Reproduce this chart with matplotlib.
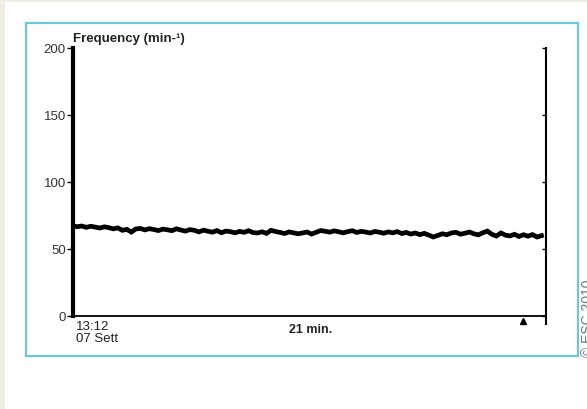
import matplotlib.pyplot as plt
from matplotlib.patches import Rectangle

plt.rcParams['font.family'] = ['Liberation Sans', 'DejaVu Sans']

# frequency trace, one value every 0.2 min
step = 0.2
freq = [67, 66.5, 67, 66, 66.8, 66.2, 65.5, 66.4, 65.8, 64.9, 65.6,
        63.8, 64.5, 62.5, 64.8, 65.2, 64.1, 65.0, 64.4, 63.6, 64.7,
        64.2, 63.5, 64.9, 64.0, 63.2, 64.3, 63.8, 62.6, 63.9, 63.1,
        62.4, 63.6, 62.0, 63.2, 62.8, 61.9, 63.0, 62.3, 63.5, 62.1,
        61.8, 62.7, 61.5, 63.8, 62.9, 62.2, 61.4, 62.6, 61.9, 61.2,
        61.8, 62.5, 61.0, 62.3, 63.6, 63.1, 62.4, 63.4, 62.7, 61.9,
        62.8, 63.5, 62.2, 63.0, 62.5, 61.8, 62.9, 62.4, 61.6, 62.6,
        61.9, 62.8, 61.4, 62.2, 61.0, 61.8, 60.6, 61.5, 60.2, 58.8,
        60.0, 61.2, 60.5, 61.8, 62.3, 60.9, 61.6, 62.5, 61.2, 60.4,
        62.0, 63.2, 60.8, 59.5, 61.8, 60.2, 59.6, 60.8, 59.2, 60.5,
        59.4, 60.6, 58.8, 59.8]
minutes = [i * step for i in range(len(freq))]
yticks = [0, 50, 100, 150, 200]
marker_t = 20.0

W, H = 587, 410
fig = plt.figure(figsize=(W / 100, H / 100), dpi=100, facecolor='#eeeee4')
# white page and cyan frame, kept behind the axes
fig.patches.append(Rectangle((5 / W, 0), 1, (H - 3) / H, transform=fig.transFigure,
                             facecolor='white', edgecolor='none', zorder=-2))
fig.patches.append(Rectangle((26 / W, (H - 357) / H), (578 - 26) / W, (357 - 24) / H,
                             transform=fig.transFigure, facecolor='none',
                             edgecolor='#6ec8d2', linewidth=1.6, zorder=-1))

ax = fig.add_axes([72.7 / W, (H - 316.7) / H, (546 - 72.7) / W, (316.7 - 49) / H])
ax.set_facecolor('none')
ax.plot(minutes, freq, color='black', linewidth=3.4, solid_joinstyle='miter')
ax.set_xlim(0, 21)
ax.set_ylim(0, 200)
ax.set_yticks(yticks)
ax.set_xticks([])
ax.tick_params(axis='y', direction='out', length=4, width=1, labelsize=9.5,
               labelcolor='#333333', pad=1)
ax.spines['top'].set_visible(False)
ax.spines['right'].set_visible(False)
ax.spines['left'].set_linewidth(3)
ax.spines['bottom'].set_linewidth(1.3)

# right side scale line, ticks pointing inwards
ax2 = ax.twinx()
ax2.set_ylim(0, 200)
ax2.set_yticks(yticks)
ax2.tick_params(axis='y', direction='in', length=3, width=1, labelright=False)
for s in ['top', 'left', 'bottom', 'right']:
    ax2.spines[s].set_visible(False)
ax2.plot([21, 21], [-6, 200], color='black', linewidth=1.5, clip_on=False)

ax.plot([marker_t], [-4.3], marker='^', color='black', markersize=5, clip_on=False)

fig.text(73 / W, (H - 39) / H, 'Frequency (min-¹)', fontsize=9.5, fontweight='bold',
         color='#222222', ha='left', va='center')
fig.text(76 / W, (H - 333) / H, '13:12\n07 Sett', fontsize=9.5, color='#222222',
         ha='left', va='center', linespacing=0.95)
fig.text(311 / W, (H - 330) / H, '21 min.', fontsize=9, fontweight='bold',
         color='#222222', ha='center', va='center')
fig.text(581.5 / W, (H - 357) / H, '© ESC 2010', fontsize=10, color='#777777',
         rotation=90, ha='left', va='bottom')

fig.savefig('out.png', dpi=100, facecolor=fig.get_facecolor())
